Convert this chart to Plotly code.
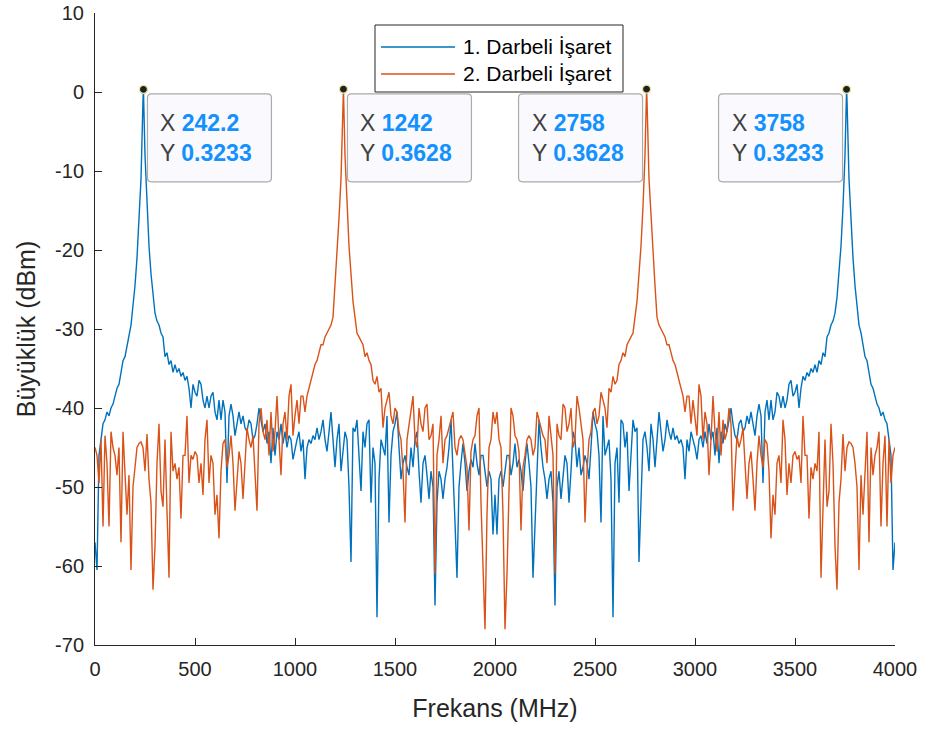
import numpy as np
import plotly.graph_objects as go

# ---------------- data ----------------
freq_step = 10  # MHz, sampling grid 0..4000
# 1. Darbeli İşaret, 0..2000 MHz
blue_left = [
    -57, -60.5, -46, -44, -42, -41.5, -40.5, -41, -40, -39.5,
    -38.5, -37.5, -37, -35.5, -34, -33.5, -32, -30.5, -29.5, -27,
    -24.5, -21, -16.5, -11, -1, -8, -14.5, -19.5, -23, -26,
    -28, -29, -29.5, -30.5, -31, -33.5, -33, -34.5, -34, -35.5,
    -34.5, -35.5, -35, -36, -35.5, -36.5, -36, -37.5, -40, -37,
    -38, -38.5, -36.5, -37, -39, -40, -38.5, -40, -38.5, -38,
    -40.5, -41.5, -39, -41.5, -39, -40.5, -49.5, -41, -39.5, -41,
    -43.5, -42, -40.5, -42, -41, -42.5, -43, -41.5, -42, -44,
    -43.5, -42, -40, -41.5, -43, -42, -44.5, -43, -47, -42.5,
    -46, -43, -44, -42, -44.5, -43, -45, -43.5, -44, -46.5,
    -45, -44, -43, -45.5, -44, -49, -45, -44, -44.5, -43.5,
    -44, -42.5, -44, -43, -41.5, -44, -45.5, -43, -40.5, -44,
    -47.5, -44, -42, -48, -45, -43, -44, -50, -59.5, -42.5,
    -43, -41.5, -46, -50.5, -43, -45, -42, -41.5, -52, -45,
    -47, -66.5, -49, -44, -45, -46, -41, -54.5, -46, -43,
    -42, -40.5, -45, -49, -47, -46, -47.5, -48.5, -45, -47.5,
    -44, -43, -48, -52, -47, -46, -48.5, -51.5, -48, -50,
    -65, -52, -48, -49, -51.5, -49, -47.5, -45, -41.5, -47,
    -54.5, -61.5, -50, -47, -44.5, -47, -50.5, -48, -46.5, -47.5,
    -44.5, -47, -48.5, -46, -46, -48, -50, -48, -49, -56,
    -51,
]
# 1. Darbeli İşaret, 2010..4000 MHz
blue_right = [
    -56, -49, -48, -50, -48, -46, -46, -48.5, -47, -44.5,
    -47.5, -46.5, -48, -50.5, -47, -44.5, -47, -50, -61.5, -54.5,
    -47, -41.5, -45, -47.5, -49, -51.5, -49, -48, -52, -65,
    -50, -48, -51.5, -48.5, -46, -47, -52, -48, -43, -44,
    -47.5, -45, -48.5, -47.5, -46, -47, -49, -45, -40.5, -42,
    -43, -46, -54.5, -41, -46, -45, -44, -49, -66.5, -47,
    -45, -52, -41.5, -42, -45, -43, -50.5, -46, -41.5, -43,
    -42.5, -59.5, -50, -44, -43, -45, -48, -42, -44, -47.5,
    -44, -40.5, -43, -45.5, -44, -41.5, -43, -44, -42.5, -44,
    -43.5, -44.5, -44, -45, -49, -44, -45.5, -43, -44, -45,
    -46.5, -44, -43.5, -45, -43, -44.5, -42, -44, -43, -46,
    -42.5, -47, -43, -44.5, -42, -43, -41.5, -40, -42, -43.5,
    -44, -42, -41.5, -43, -42.5, -41, -42, -40.5, -42, -43.5,
    -41, -39.5, -41, -49.5, -40.5, -39, -41.5, -39, -41.5, -40.5,
    -38, -38.5, -40, -38.5, -40, -39, -37, -36.5, -38.5, -38,
    -37, -40, -37.5, -36, -36.5, -35.5, -36, -35, -35.5, -34.5,
    -35.5, -34, -34.5, -33, -33.5, -31, -30.5, -29.5, -29, -28,
    -26, -23, -19.5, -14.5, -8, -1, -11, -16.5, -21, -24.5,
    -27, -29.5, -30.5, -32, -33.5, -34, -35.5, -37, -37.5, -38.5,
    -39.5, -40, -41, -40.5, -41.5, -42, -44, -46, -60.5, -57,
]
# 2. Darbeli İşaret, 0..2000 MHz
orange_left = [
    -45, -46, -49.5, -44, -55, -43.5, -47, -55, -43, -45,
    -46, -48.5, -45, -57, -43, -47.5, -53.5, -48.5, -60.5, -50,
    -47, -45, -44.5, -44.3, -45, -48, -43.3, -49, -52, -63,
    -57.5, -47, -42, -50.5, -52.5, -44, -53, -61.5, -43, -48,
    -47, -49, -47.5, -54, -46, -46, -41, -49.5, -46, -46.5,
    -45.5, -46, -49.5, -47, -51, -44, -41.5, -49.5, -46, -47,
    -53.5, -51, -56.5, -48, -44.5, -44, -47.5, -46, -43.5, -47,
    -53, -49, -45.5, -47, -51.5, -47, -42.5, -44, -45, -43.5,
    -48, -53, -42, -40, -43, -44, -41.5, -46, -40.5, -45.5,
    -43, -38.5, -44, -48.5, -42, -40.5, -44, -38.5, -37, -43.5,
    -41, -39, -42, -38.5, -38.5, -40.5, -38.5, -37.5, -36.5, -35.5,
    -34.5, -34, -33, -32, -32, -31, -30.5, -30, -29.5, -28.5,
    -24.5, -21, -16, -11, -1, -8, -14.5, -19.5, -23, -26.5,
    -28.5, -30.5, -31, -31.5, -32, -33.5, -33, -34, -34.5, -36.5,
    -37, -36, -38, -37.5, -42.5, -40, -39, -38, -41, -42,
    -40, -40.5, -43, -44, -48, -54.5, -44, -42, -40, -38.5,
    -44, -45, -40, -42, -43, -40, -39.5, -44, -43.5, -42,
    -61, -46, -44, -41, -47, -44, -43.5, -42.5, -41.5, -40.5,
    -45, -46, -44, -43.5, -44, -46, -47.5, -55.5, -45.5, -44,
    -43.5, -41, -40, -52, -61, -68, -53.5, -45, -44, -40.5,
    -42,
]
# 2. Darbeli İşaret, 2010..4000 MHz
orange_right = [
    -40.5, -44, -45, -53.5, -68, -61, -52, -40, -41, -43.5,
    -44, -45.5, -55.5, -47.5, -46, -44, -43.5, -44, -46, -45,
    -40.5, -41.5, -42.5, -43.5, -44, -47, -41, -44, -46, -61,
    -42, -43.5, -44, -39.5, -40, -43, -42, -40, -45, -44,
    -38.5, -40, -42, -44, -54.5, -48, -44, -43, -40.5, -40,
    -42, -41, -38, -39, -40, -42.5, -37.5, -38, -36, -37,
    -36.5, -34.5, -34, -33, -33.5, -32, -31.5, -31, -30.5, -28.5,
    -26.5, -23, -19.5, -14.5, -8, -1, -11, -16, -21, -24.5,
    -28.5, -29.5, -30, -30.5, -31, -32, -32, -33, -34, -34.5,
    -35.5, -36.5, -37.5, -38.5, -40.5, -38.5, -38.5, -42, -39, -41,
    -43.5, -37, -38.5, -44, -40.5, -42, -48.5, -44, -38.5, -43,
    -45.5, -40.5, -46, -41.5, -44, -43, -40, -42, -53, -48,
    -43.5, -45, -44, -42.5, -47, -51.5, -47, -45.5, -49, -53,
    -47, -43.5, -46, -47.5, -44, -44.5, -48, -56.5, -51, -53.5,
    -47, -46, -49.5, -41.5, -44, -51, -47, -49.5, -46, -45.5,
    -46.5, -46, -49.5, -41, -46, -46, -54, -47.5, -49, -47,
    -48, -43, -61.5, -53, -44, -52.5, -50.5, -42, -47, -57.5,
    -63, -52, -49, -43.3, -48, -45, -44.3, -44.5, -45, -47,
    -50, -60.5, -48.5, -53.5, -47.5, -43, -57, -45, -48.5, -46,
    -45, -43, -55, -47, -43.5, -55, -44, -49.5, -46, -45,
]

blue_peak_freq = [242.2, 3757.8]
blue_peak_val = [0.3233, 0.3233]
orange_peak_freq = [1242.2, 2757.8]
orange_peak_val = [0.3628, 0.3628]

tip_freq = [242.2, 1242.2, 2757.8, 3757.8]
tip_val = [0.3233, 0.3628, 0.3628, 0.3233]
tip_x_text = ["242.2", "1242", "2758", "3758"]
tip_y_text = ["0.3233", "0.3628", "0.3628", "0.3233"]
tip_side = ["right", "right", "left", "left"]

series_names = ["1. Darbeli İşaret", "2. Darbeli İşaret"]
x_ticks = [0, 500, 1000, 1500, 2000, 2500, 3000, 3500, 4000]
x_tick_text = ["0", "500", "1000", "1500", "2000", "2500", "3000", "3500", "4000"]
y_ticks = [-70, -60, -50, -40, -30, -20, -10, 0, 10]
y_tick_text = ["-70", "-60", "-50", "-40", "-30", "-20", "-10", "0", "10"]

# ---------------- build series ----------------
grid = np.arange(0, 4000 + freq_step, freq_step, dtype=float)


def merge(vals, pk_f, pk_v):
    x = np.concatenate([grid, np.array(pk_f)])
    y = np.concatenate([np.array(vals, dtype=float), np.array(pk_v)])
    o = np.argsort(x, kind="stable")
    return x[o], y[o]


bx, by = merge(blue_left + blue_right, blue_peak_freq, blue_peak_val)
ox, oy = merge(orange_left + orange_right, orange_peak_freq, orange_peak_val)

BLUE = "#0072BD"
ORANGE = "#D95319"
AX = "#262626"
FONT = "Liberation Sans, Arial, Helvetica, sans-serif"

fig = go.Figure()
fig.add_trace(go.Scatter(x=bx, y=by, mode="lines", name=series_names[0],
                         line=dict(color=BLUE, width=1.4), showlegend=False))
fig.add_trace(go.Scatter(x=ox, y=oy, mode="lines", name=series_names[1],
                         line=dict(color=ORANGE, width=1.4), showlegend=False))

# peak markers (data tips)
fig.add_trace(go.Scatter(x=tip_freq, y=tip_val, mode="markers", showlegend=False,
                         marker=dict(size=8, color="#202020",
                                     line=dict(color="#E8E8A0", width=1.2)),
                         hoverinfo="skip"))

# plot geometry (pixels) for converting pixel offsets to data units
L, R, T, B = 95, 36, 13, 89
W, H = 931, 734
pw, ph = W - L - R, H - T - B
xr = (0, 4000)
yr = (-70, 10)
mhz_px = (xr[1] - xr[0]) / pw
db_px = (yr[1] - yr[0]) / ph

shapes = []
annotations = []
box_w = 124 * mhz_px
gap = 4 * mhz_px
y_top = -0.24
y_bot = -11.37
rx, ry = 4 * mhz_px, 4 * db_px
for f, v, xs, ys, side in zip(tip_freq, tip_val, tip_x_text, tip_y_text, tip_side):
    if side == "right":
        xl = f + gap
    else:
        xl = f - gap - box_w
    xrr = xl + box_w
    path = (f"M {xl+rx},{y_top} L {xrr-rx},{y_top} Q {xrr},{y_top} {xrr},{y_top-ry} "
            f"L {xrr},{y_bot+ry} Q {xrr},{y_bot} {xrr-rx},{y_bot} L {xl+rx},{y_bot} "
            f"Q {xl},{y_bot} {xl},{y_bot+ry} L {xl},{y_top-ry} Q {xl},{y_top} {xl+rx},{y_top} Z")
    shapes.append(dict(type="path", path=path, xref="x", yref="y",
                       fillcolor="#F9F9FE", line=dict(color="#ABABAB", width=1.2), layer="above"))
    for lab, val, yy in (("X", xs, -3.9), ("Y", ys, -7.75)):
        annotations.append(dict(
            x=xl + 11 * mhz_px, y=yy, xref="x", yref="y", xanchor="left", yanchor="middle",
            showarrow=False,
            text=f"<span style='color:#404040'>{lab}</span> "
                 f"<b><span style='color:#1291FF'>{val}</span></b>",
            font=dict(family=FONT, size=23)))

# legend drawn as a box (long line samples as in the reference)
def px2paper(px, py):
    return (px - L) / pw, (H - B - py) / ph

lx0, ly0 = px2paper(375, 92)
lx1, ly1 = px2paper(623, 25)
shapes.append(dict(type="rect", xref="paper", yref="paper", x0=lx0, y0=ly0, x1=lx1, y1=ly1,
                   fillcolor="white", line=dict(color=AX, width=1), layer="above"))
for i, (name, col, py) in enumerate(zip(series_names, [BLUE, ORANGE], [47, 74])):
    a0, yy = px2paper(381, py)
    a1, _ = px2paper(455, py)
    shapes.append(dict(type="line", xref="paper", yref="paper", x0=a0, x1=a1, y0=yy, y1=yy,
                       line=dict(color=col, width=1.5), layer="above"))
    tx, _ = px2paper(461, py)
    annotations.append(dict(x=tx, y=yy, xref="paper", yref="paper", xanchor="left",
                            yanchor="middle", showarrow=False, text=name,
                            font=dict(family=FONT, size=21, color="#000000")))

fig.update_layout(
    template="none",
    width=W, height=H,
    margin=dict(l=L, r=R, t=T, b=B, autoexpand=False),
    paper_bgcolor="white", plot_bgcolor="white",
    font=dict(family=FONT, color=AX),
    shapes=shapes, annotations=annotations,
    showlegend=False,
)
fig.update_xaxes(range=list(xr), tickvals=x_ticks, ticktext=x_tick_text, ticks="inside", ticklen=7,
                 tickcolor=AX, showline=True, linecolor=AX, linewidth=1, mirror=False,
                 showgrid=False, zeroline=False, tickfont=dict(size=20, color=AX),
                 ticklabelstandoff=6, automargin=False,
                 title=dict(text="Frekans (MHz)", font=dict(size=25, color=AX), standoff=20))
fig.update_yaxes(range=list(yr), tickvals=y_ticks, ticktext=y_tick_text, ticks="inside", ticklen=7,
                 tickcolor=AX, showline=True, linecolor=AX, linewidth=1, mirror=False,
                 showgrid=False, zeroline=False, tickfont=dict(size=20, color=AX),
                 ticklabelstandoff=6, automargin=False,
                 title=dict(text="Büyüklük (dBm)", font=dict(size=25, color=AX), standoff=12))

fig.write_html("out.html")
